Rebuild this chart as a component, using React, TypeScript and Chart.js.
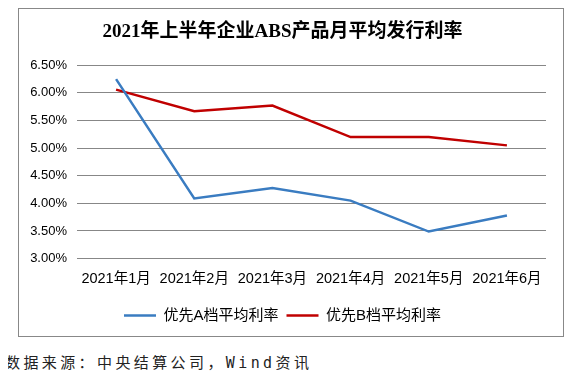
import React, { useEffect, useRef } from "react";
import { Chart, registerables } from "chart.js";

Chart.register(...registerables);

const titleText = "2021年上半年企业ABS产品月平均发行利率";
const categories = ["2021年1月", "2021年2月", "2021年3月", "2021年4月", "2021年5月", "2021年6月"];
const seriesAName = "优先A档平均利率";
const seriesBName = "优先B档平均利率";
const seriesA = [6.25, 4.09, 4.28, 4.05, 3.49, 3.78];
const seriesB = [6.06, 5.67, 5.77, 5.2, 5.2, 5.05];
const yMin = 3;
const yMax = 6.5;
const yStep = 0.5;
const sourceText = "数据来源：中央结算公司，Wind资讯";

const SANS = "'Liberation Sans', 'Noto Sans CJK SC', sans-serif";

export default function App() {
  const ref = useRef<HTMLCanvasElement | null>(null);

  useEffect(() => {
    if (!ref.current) return;
    const chart = new Chart(ref.current, {
      type: "line",
      data: {
        labels: categories,
        datasets: [
          {
            label: seriesAName,
            data: seriesA,
            borderColor: "#3A7CC1",
            backgroundColor: "#3A7CC1",
            borderWidth: 2.5,
            pointRadius: 0,
            tension: 0,
          },
          {
            label: seriesBName,
            data: seriesB,
            borderColor: "#C00000",
            backgroundColor: "#C00000",
            borderWidth: 2.5,
            pointRadius: 0,
            tension: 0,
          },
        ],
      },
      options: {
        animation: false,
        responsive: false,
        maintainAspectRatio: false,
        layout: { padding: { left: 0, right: 17, top: 0, bottom: 3 } },
        plugins: {
          title: {
            display: true,
            text: titleText,
            color: "#000",
            font: { family: "'Liberation Serif', 'Noto Sans CJK SC', serif", size: 19, weight: "bold", lineHeight: 1.2 },
            padding: { top: 12, bottom: 21.5 },
          },
          legend: {
            display: true,
            position: "bottom",
            labels: {
              usePointStyle: true,
              pointStyle: "line",
              pointStyleWidth: 32,
              boxWidth: 32,
              color: "#000",
              padding: 8,
              font: { family: SANS, size: 15 },
            },
          },
          tooltip: { enabled: false },
        },
        scales: {
          x: {
            offset: true,
            grid: { display: false, drawTicks: false },
            border: { display: false },
            ticks: {
              color: "#000",
              padding: 12,
              maxRotation: 0,
              autoSkip: false,
              font: { family: SANS, size: 14.5 },
            },
          },
          y: {
            min: yMin,
            max: yMax,
            grid: { color: "#878787", lineWidth: 1, drawTicks: false },
            border: { display: false },
            ticks: {
              stepSize: yStep,
              color: "#000",
              padding: 10,
              font: { family: SANS, size: 13 },
              callback: (v: any) => Number(v).toFixed(2) + "%",
            },
            afterFit: (scale: any) => {
              scale.width = 58;
            },
          },
        },
      },
    });
    return () => chart.destroy();
  }, []);

  return (
    <div style={{ position: "relative", width: 572, height: 369 }}>
      <div
        style={{
          position: "absolute",
          left: 10,
          top: 0,
          width: 544,
          height: 327,
          border: "1px solid #888",
          background: "#fff",
        }}
      >
        <canvas ref={ref} width={544} height={327} style={{ display: "block", width: 544, height: 327 }} />
      </div>
      <div
        style={{
          position: "absolute",
          left: -3,
          top: 345,
          fontFamily: "'DejaVu Sans Mono', 'Noto Sans CJK SC', monospace",
          fontSize: 15,
          letterSpacing: 3.4,
          color: "#222",
          whiteSpace: "nowrap",
          lineHeight: "20px",
        }}
      >
        {sourceText}
      </div>
    </div>
  );
}
